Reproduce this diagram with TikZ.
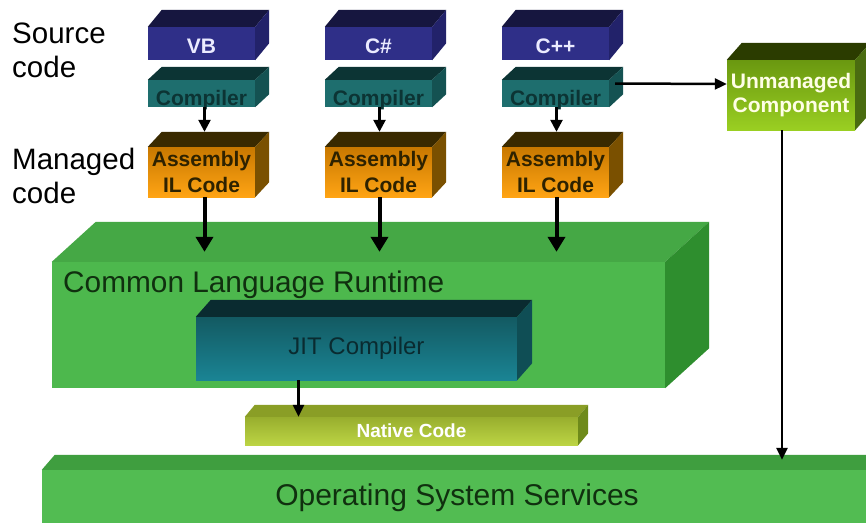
\documentclass[tikz,border=0pt]{standalone}
\usepackage{fontspec}
\setmainfont{Liberation Sans}
\usetikzlibrary{arrows.meta}

\definecolor{langfront}{HTML}{2F2F88}
\definecolor{langtop}{HTML}{16163F}
\definecolor{langside}{HTML}{22226A}
\definecolor{compfront}{HTML}{1E6E6E}
\definecolor{comptop}{HTML}{0C3434}
\definecolor{compside}{HTML}{145252}
\definecolor{asmhigh}{HTML}{C87800}
\definecolor{asmlow}{HTML}{FFA414}
\definecolor{asmtop}{HTML}{3A2A00}
\definecolor{asmside}{HTML}{7A5000}
\definecolor{clrfront}{HTML}{4DB84D}
\definecolor{clrtop}{HTML}{45A845}
\definecolor{clrside}{HTML}{2E8E2E}
\definecolor{jithigh}{HTML}{135A62}
\definecolor{jitlow}{HTML}{1A8494}
\definecolor{jittop}{HTML}{0A2B30}
\definecolor{jitside}{HTML}{0F4E55}
\definecolor{nativehigh}{HTML}{98AE2E}
\definecolor{nativelow}{HTML}{BCD444}
\definecolor{nativetop}{HTML}{8A9E26}
\definecolor{nativeside}{HTML}{6E8A1A}
\definecolor{osfront}{HTML}{52BC52}
\definecolor{ostop}{HTML}{3F9E3F}
\definecolor{umhigh}{HTML}{6A9810}
\definecolor{umlow}{HTML}{9ACF22}
\definecolor{umtop}{HTML}{2B3C00}
\definecolor{umside}{HTML}{4A6C10}
\definecolor{darkgreen}{HTML}{10300F}

% top and right faces of a box, drawn from its front node
\newcommand{\boxfaces}[5]{%
  \fill[#4] (#1.north west) -- ++(#2,-#3) -- ([xshift=#2pt,yshift=#3pt]#1.north east) -- (#1.north east) -- cycle;
  \fill[#5] (#1.north east) -- ++(#2,-#3) -- ([xshift=#2pt,yshift=#3pt]#1.south east) -- (#1.south east) -- cycle;
}

\begin{document}
\begin{tikzpicture}[x=1pt,y=-1pt,
  front/.style={inner sep=0pt,align=center},
  lang/.style={front,fill=langfront,text=white!92!blue,minimum width=107pt,minimum height=33pt,
    text height=19pt,text depth=0pt,font=\fontsize{21}{25}\selectfont\bfseries},
  comp/.style={front,fill=compfront,text=comptop,minimum width=107pt,minimum height=27pt,
    text height=23pt,text depth=0pt,font=\fontsize{21}{25}\selectfont\bfseries},
  asm/.style={front,top color=asmhigh,bottom color=asmlow,text=asmtop!80!black,minimum width=107pt,minimum height=50pt,
    font=\fontsize{21}{26}\selectfont\bfseries},
  sidelabel/.style={anchor=west,inner sep=0pt,align=left,font=\fontsize{29.5}{34}\selectfont},
  bigarrow/.style={line width=4pt,-{Triangle[width=17pt,length=15pt]}},
  midarrow/.style={line width=2.5pt,-{Triangle[width=12pt,length=12pt]}},
  thinarrow/.style={line width=2.5pt,-{Triangle[width=11pt,length=12pt]}}]

\clip (0,0) rectangle (866,522);
\fill[white] (0,0) rectangle (866,522);

% Labels on the left
\node[sidelabel] (srclabel) at (12,50) {Source\\code};
\node[sidelabel] (mgdlabel) at (12,176) {Managed\\code};

% Languages
\node[lang] (vb) at (201.5,43.5) {VB};
\boxfaces{vb}{14}{17}{langtop}{langside}
\node[lang] (cs) at (378.5,43.5) {C\#};
\boxfaces{cs}{14}{17}{langtop}{langside}
\node[lang] (cpp) at (555.5,43.5) {C++};
\boxfaces{cpp}{14}{17}{langtop}{langside}

% Compilers
\node[comp] (cvb) at (201.5,93.5) {Compiler};
\boxfaces{cvb}{14}{13}{comptop}{compside}
\node[comp] (ccs) at (378.5,93.5) {Compiler};
\boxfaces{ccs}{14}{13}{comptop}{compside}
\node[comp] (ccpp) at (555.5,93.5) {Compiler};
\boxfaces{ccpp}{14}{13}{comptop}{compside}

% Assemblies
\node[asm] (avb) at (201.5,172) {Assembly\\IL Code};
\boxfaces{avb}{14}{15}{asmtop}{asmside}
\node[asm] (acs) at (378.5,172) {Assembly\\IL Code};
\boxfaces{acs}{14}{15}{asmtop}{asmside}
\node[asm] (acpp) at (555.5,172) {Assembly\\IL Code};
\boxfaces{acpp}{14}{15}{asmtop}{asmside}

% Unmanaged component
\node[front,top color=umhigh,bottom color=umlow,text=white!90!yellow,minimum width=128pt,minimum height=70pt,
  font=\fontsize{21}{24}\selectfont\bfseries] (ucomp) at (791,95) {Unmanaged\\Component};
\boxfaces{ucomp}{15}{17}{umtop}{umside}

% Common Language Runtime
\node[front,fill=clrfront,minimum width=613pt,minimum height=126pt] (clr) at (358.5,325) {};
\boxfaces{clr}{44}{40}{clrtop}{clrside}
\node[anchor=west,inner sep=0pt,text=darkgreen,font=\fontsize{29.8}{34}\selectfont] (clrlabel) at (63,285) {Common Language Runtime};

% JIT compiler
\node[front,top color=jithigh,bottom color=jitlow,text=jittop,minimum width=321pt,minimum height=63pt,
  font=\fontsize{24}{28}\selectfont] (jit) at (356.5,348.5) {JIT Compiler};
\boxfaces{jit}{15}{17}{jittop}{jitside}

% Native code
\node[front,top color=nativehigh,bottom color=nativelow,text=white,minimum width=333pt,minimum height=28pt,
  font=\fontsize{19}{22}\selectfont\bfseries] (native) at (411.5,431) {Native Code};
\boxfaces{native}{10}{12}{nativetop}{nativeside}

% Operating system
\node[front,fill=osfront,text=darkgreen,minimum width=830pt,minimum height=55pt,
  font=\fontsize{30}{34}\selectfont] (os) at (457,497.5) {Operating System Services};
\boxfaces{os}{13}{15}{ostop}{ostop}

% Arrows
\draw[midarrow,shorten >=15pt] ([xshift=3pt]cvb.south) -- ([xshift=3pt]avb.north);
\draw[midarrow,shorten >=15pt] ([xshift=1pt]ccs.south) -- ([xshift=1pt]acs.north);
\draw[midarrow,shorten >=15pt] ([xshift=1pt]ccpp.south) -- ([xshift=1pt]acpp.north);
\draw[bigarrow,shorten >=10pt] ([xshift=3pt]avb.south) -- ([xshift=3pt]avb.south |- clr.north);
\draw[bigarrow,shorten >=10pt] ([xshift=1pt]acs.south) -- ([xshift=1pt]acs.south |- clr.north);
\draw[bigarrow,shorten >=10pt] ([xshift=1pt]acpp.south) -- ([xshift=1pt]acpp.south |- clr.north);
\draw[thinarrow] ([xshift=6pt,yshift=10pt]ccpp.east) -- ([yshift=11pt]ucomp.west);
\draw[thinarrow,shorten >=10pt] ([xshift=-9pt]ucomp.south) -- ([xshift=-9pt]ucomp.south |- os.north);
\draw[thinarrow] ([xshift=-58pt]jit.south) -- ([xshift=-58pt]jit.south |- native.north);
\end{tikzpicture}
\end{document}
